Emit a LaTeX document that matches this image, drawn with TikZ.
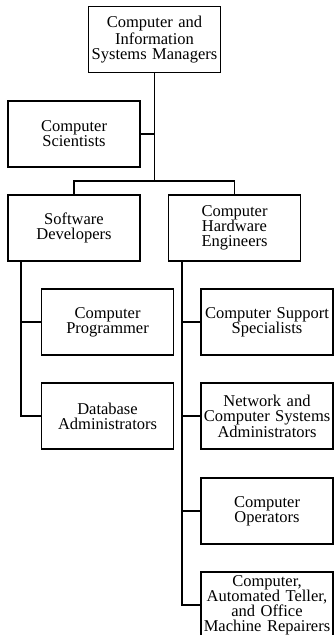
\documentclass[tikz,border=0pt]{standalone}
\usepackage{fontspec}
\setmainfont{Liberation Serif}
\begin{document}
\begin{tikzpicture}[x=1pt,y=1pt,
  box/.style={draw,line width=1.3pt,rectangle,minimum width=132pt,minimum height=66pt,
    inner sep=0pt,text width=130pt,align=center,font=\fontsize{16.5}{15}\selectfont},
  conn/.style={line width=1.3pt}]
\useasboundingbox (0,0) rectangle (334,-635);
\clip (0,0) rectangle (334,-635);
\node[box] (top) at (154.5,-39.5) {Computer and\\Information\\Systems Managers};
\node[box] (cs) at (74,-134) {Computer\\Scientists};
\node[box] (sd) at (74,-228) {Software\\Developers};
\node[box] (che) at (234.5,-228) {Computer\\Hardware\\Engineers};
\node[box] (cp) at (107.5,-322) {Computer\\Programmer};
\node[box] (da) at (107.5,-416) {Database\\Administrators};
\node[box] (css) at (267,-322) {Computer Support\\Specialists};
\node[box] (net) at (267,-416) {Network and\\Computer Systems\\Administrators};
\node[box] (ops) at (267,-511) {Computer\\Operators};
\node[box] (rep) at (267,-605) {Computer,\\Automated Teller,\\and Office\\Machine Repairers};
\coordinate (bar) at (154.5,-181);
\coordinate (lv) at (21,-261);
\coordinate (rv) at (182,-261);
\draw[conn] (top.south) |- (cs.east);
\draw[conn] (top.south) -- (bar);
\draw[conn] (sd.north) |- (bar) -| (che.north);
\draw[conn] (lv) |- (da.west);
\draw[conn] (lv |- cp.west) -- (cp.west);
\draw[conn] (rv) |- (rep.west);
\draw[conn] (rv |- css.west) -- (css.west);
\draw[conn] (rv |- net.west) -- (net.west);
\draw[conn] (rv |- ops.west) -- (ops.west);
\end{tikzpicture}
\end{document}
